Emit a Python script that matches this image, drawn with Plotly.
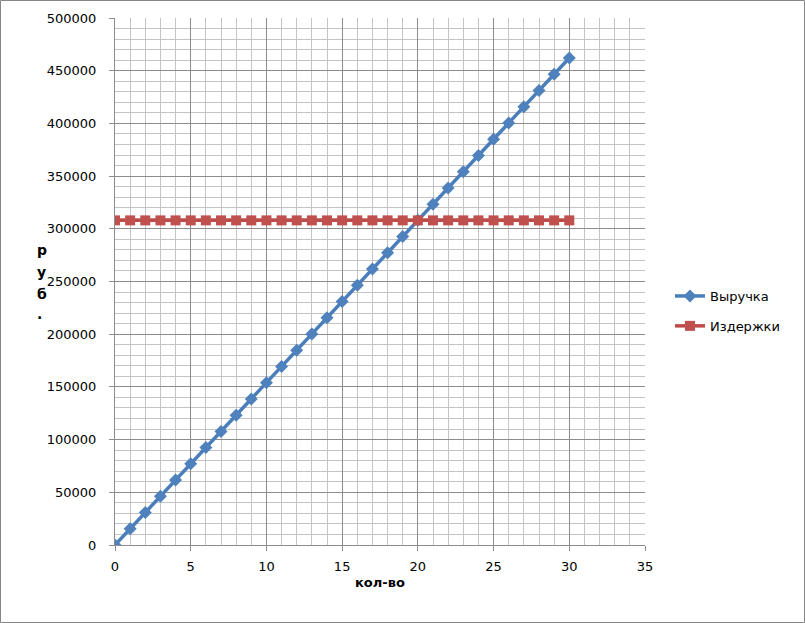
import plotly.graph_objects as go

qty = list(range(0, 31))
revenue = [0, 15400, 30800, 46200, 61600, 77000, 92400, 107800, 123200, 138600,
           154000, 169400, 184800, 200200, 215600, 231000, 246400, 261800, 277200, 292600,
           308000, 323400, 338800, 354200, 369600, 385000, 400400, 415800, 431200, 446600,
           462000]
costs = [308000] * 31
y_ticks = [0, 50000, 100000, 150000, 200000, 250000, 300000, 350000, 400000, 450000, 500000]
x_ticks = [0, 5, 10, 15, 20, 25, 30, 35]
y_title_letters = ["р", "у", "б", "."]
x_title = "кол-во"

W, H = 805, 623
L, R, T, B = 115, 160, 18, 78
pw, ph = W - L - R, H - T - B


def px_x(x):
    return (x - L) / pw


def px_y(y):
    return (H - y - B) / ph


fig = go.Figure()
fig.add_trace(go.Scatter(x=qty, y=revenue, name="Выручка", mode="lines+markers",
                         line=dict(color="#4A7EBB", width=3.5),
                         marker=dict(symbol="diamond", size=10, color="#4F81BD"),
                         legendgroup="a"))
fig.add_trace(go.Scatter(x=qty, y=costs, name="Издержки", mode="lines+markers",
                         line=dict(color="#BE4B48", width=3.5),
                         marker=dict(symbol="square", size=10, color="#C0504D"),
                         legendgroup="b"))

tick_font = dict(family="DejaVu Sans", size=13, color="#000")
annotations = []
for i, ch in enumerate(y_title_letters):
    annotations.append(dict(text=f"<b>{ch}</b>", x=px_x(35), y=px_y([250, 272, 294, 314][i]),
                            xref="paper", yref="paper", showarrow=False,
                            font=dict(family="DejaVu Sans", size=14, color="#000")))
annotations.append(dict(text=f"<b>{x_title}</b>", x=px_x(380), y=px_y(592),
                        xref="paper", yref="paper", showarrow=False,
                        font=dict(family="DejaVu Sans", size=13, color="#000")))

fig.update_layout(
    width=W, height=H,
    margin=dict(l=L, r=R, t=T, b=B),
    paper_bgcolor="white", plot_bgcolor="white",
    font=tick_font,
    showlegend=True,
    legend=dict(x=px_x(670), y=px_y(281), xanchor="left", yanchor="top",
                tracegroupgap=10, font=dict(family="DejaVu Sans", size=13, color="#000"),
                bgcolor="rgba(0,0,0,0)"),
    xaxis=dict(range=[0, 35], tickmode="array", tickvals=x_ticks,
               showgrid=True, gridcolor="#8C8C8C", gridwidth=1,
               minor=dict(dtick=1, showgrid=True, gridcolor="#C4C4C4", gridwidth=1),
               showline=True, linecolor="#8C8C8C", linewidth=1,
               ticks="outside", ticklen=5, tickcolor="#8C8C8C",
               tickfont=tick_font, ticklabelstandoff=4,
               zeroline=False, fixedrange=True),
    yaxis=dict(range=[0, 500000], tickmode="array", tickvals=y_ticks,
               ticktext=[str(v) for v in y_ticks],
               showgrid=True, gridcolor="#8C8C8C", gridwidth=1,
               minor=dict(dtick=10000, showgrid=True, gridcolor="#C4C4C4", gridwidth=1),
               showline=True, linecolor="#8C8C8C", linewidth=1,
               ticks="outside", ticklen=5, tickcolor="#8C8C8C",
               tickfont=tick_font, ticklabelstandoff=10,
               zeroline=False, fixedrange=True),
    annotations=annotations,
    shapes=[dict(type="rect", xref="paper", yref="paper",
                 x0=(-L + 0.5) / pw, x1=(W - L - 0.5) / pw,
                 y0=(-B + 0.5) / ph, y1=(H - B - 0.5) / ph,
                 line=dict(color="#868686", width=1), fillcolor="rgba(0,0,0,0)")],
)

fig.write_html("out.html", config={"displayModeBar": False},
               post_script="document.body.style.margin='0';document.body.style.padding='0';")
